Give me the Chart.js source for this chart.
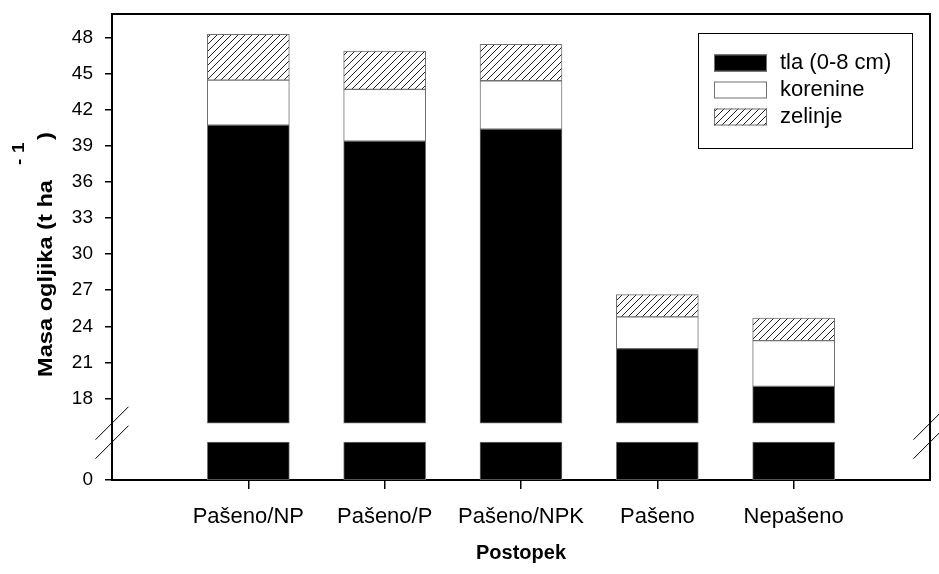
<!DOCTYPE html>
<html><head><meta charset="utf-8">
<script src="https://cdn.jsdelivr.net/npm/chart.js@4"></script>
<style>html,body{margin:0;padding:0;background:#fff}canvas{display:block}</style>
</head><body>
<canvas id="c" width="939" height="574"></canvas>
<script>
// ---- data ----
const categories = ['Pašeno/NP', 'Pašeno/P', 'Pašeno/NPK', 'Pašeno', 'Nepašeno'];
const tla      = [40.75, 39.42, 40.42, 22.14, 19.00];
const korenine = [3.75, 4.30, 4.02, 2.64, 3.81];
const zelinje  = [3.81, 3.20, 3.03, 1.86, 1.88];
const seriesNames = ['tla (0-8 cm)', 'korenine', 'zelinje'];
const yTickValues = [18, 21, 24, 27, 30, 33, 36, 39, 42, 45, 48];
const yZeroLabel = '0';
const xTitle = 'Postopek';
const yTitle = 'Masa ogljika (t ha';
const yTitleSup = ['-', '1'];
const yTitleEnd = ')';

// broken axis: display position of real 0 and of the break
const Y_MIN = 11.2, Y_MAX = 50, BREAK_LOW = 14.35, BREAK_HIGH = 15.93;

const FONT = "'Liberation Sans', Arial, Helvetica, sans-serif";
Chart.defaults.font.family = FONT;
Chart.defaults.color = '#000';

// hatch pattern
function makeHatch() {
  const s = 7;
  const pc = document.createElement('canvas');
  pc.width = s; pc.height = s;
  const g = pc.getContext('2d');
  g.fillStyle = '#fff'; g.fillRect(0, 0, s, s);
  g.strokeStyle = '#222'; g.lineWidth = 1;
  g.beginPath();
  g.moveTo(0, s); g.lineTo(s, 0);
  g.moveTo(-1, 1); g.lineTo(1, -1);
  g.moveTo(s - 1, s + 1); g.lineTo(s + 1, s - 1);
  g.stroke();
  return document.getElementById('c').getContext('2d').createPattern(pc, 'repeat');
}
const hatch = makeHatch();

const xs = categories.map((_, i) => i + 1);
const blackUpper = xs.map((x, i) => ({ x, y: [BREAK_HIGH, tla[i]] }));
const blackLower = xs.map((x) => ({ x, y: [Y_MIN, BREAK_LOW] }));
const whiteSeg  = xs.map((x, i) => ({ x, y: [tla[i], tla[i] + korenine[i]] }));
const hatchSeg  = xs.map((x, i) => ({ x, y: [tla[i] + korenine[i], tla[i] + korenine[i] + zelinje[i]] }));

const BORDER = '#707070';
const barCommon = { grouped: false, barThickness: 82, borderWidth: 1, borderColor: BORDER, borderSkipped: false };

const legendItems = [
  { label: seriesNames[0], fill: '#000' },
  { label: seriesNames[1], fill: '#fff' },
  { label: seriesNames[2], fill: hatch }
];

const decor = {
  id: 'decor',
  afterDraw(chart) {
    const ctx = chart.ctx;
    const a = chart.chartArea;
    const ys = chart.scales.y;
    ctx.save();
    // frame top & right
    ctx.strokeStyle = '#000'; ctx.lineWidth = 2;
    ctx.beginPath();
    ctx.moveTo(a.left - 1, a.top); ctx.lineTo(a.right, a.top); ctx.lineTo(a.right, a.bottom + 1);
    ctx.stroke();
    // break marks
    ctx.lineWidth = 1;
    const yb = [ys.getPixelForValue(BREAK_HIGH), ys.getPixelForValue(BREAK_LOW)];
    [a.left, a.right].forEach(x => {
      yb.forEach(y => {
        ctx.beginPath();
        ctx.moveTo(x - 16.5, y + 16.5);
        ctx.lineTo(x + 16.5, y - 16.5);
        ctx.stroke();
      });
    });
    // legend
    const L = { x: 698, y: 33, w: 214, h: 115 };
    ctx.fillStyle = '#fff'; ctx.fillRect(L.x, L.y, L.w, L.h);
    ctx.strokeStyle = '#000'; ctx.lineWidth = 1;
    ctx.strokeRect(L.x + 0.5, L.y + 0.5, L.w, L.h);
    const rows = [63, 90, 117];
    ctx.font = '22px ' + FONT; ctx.textBaseline = 'middle'; ctx.textAlign = 'left';
    legendItems.forEach((it, i) => {
      const cy = rows[i];
      ctx.fillStyle = it.fill;
      ctx.fillRect(714, cy - 8.5, 53, 17);
      ctx.strokeStyle = BORDER; ctx.strokeRect(714.5, cy - 8, 52, 16);
      ctx.fillStyle = '#000';
      ctx.fillText(it.label, 780, cy);
    });
    // y axis title (rotated, with superscript)
    ctx.translate(52, 377);
    ctx.rotate(-Math.PI / 2);
    ctx.textBaseline = 'alphabetic';
    ctx.font = 'bold 21px ' + FONT;
    const w = ctx.measureText(yTitle).width;
    const sx = 197 / w;
    ctx.scale(sx, 1);
    ctx.fillText(yTitle, 0, 0);
    ctx.font = 'bold 17px ' + FONT;
    ctx.fillText(yTitleSup[0], 212 / sx, -28);
    ctx.fillText(yTitleSup[1], 224 / sx, -28);
    ctx.font = 'bold 21px ' + FONT;
    ctx.fillText(yTitleEnd, 237 / sx, 0);
    ctx.restore();
  }
};

new Chart(document.getElementById('c'), {
  type: 'bar',
  data: {
    datasets: [
      Object.assign({ label: seriesNames[0], data: blackLower, backgroundColor: '#000' }, barCommon),
      Object.assign({ label: seriesNames[0], data: blackUpper, backgroundColor: '#000' }, barCommon),
      Object.assign({ label: seriesNames[1], data: whiteSeg, backgroundColor: '#fff' }, barCommon),
      Object.assign({ label: seriesNames[2], data: hatchSeg, backgroundColor: hatch }, barCommon)
    ]
  },
  options: {
    responsive: false,
    animation: false,
    events: [],
    layout: { padding: { left: 0, right: 9, top: 14, bottom: 0 } },
    plugins: { legend: { display: false }, tooltip: { enabled: false } },
    scales: {
      x: {
        type: 'linear', min: 0, max: 6, offset: false,
        afterBuildTicks: s => { s.ticks = xs.map(v => ({ value: v })); },
        ticks: { callback: v => categories[v - 1] ?? '', font: { size: 22 }, color: '#000', padding: 15, maxRotation: 0, autoSkip: false },
        grid: { offset: false, drawOnChartArea: false, drawTicks: true, tickLength: 9, color: '#000', tickColor: '#000', tickWidth: 1.5, lineWidth: 1.5 },
        border: { display: true, color: '#000', width: 2 },
        title: { display: true, text: xTitle, font: { size: 20, weight: 'bold' }, color: '#000', padding: { top: 0, bottom: 9 } },
        afterFit: s => { s.height = 94; s.paddingLeft = 0; s.paddingRight = 0; }
      },
      y: {
        type: 'linear', min: Y_MIN, max: Y_MAX,
        afterBuildTicks: s => { s.ticks = [Y_MIN, ...yTickValues].map(v => ({ value: v })); },
        ticks: { callback: v => (v === Y_MIN ? yZeroLabel : String(v)), font: { size: 19 }, color: '#000', padding: 12, autoSkip: false },
        grid: { offset: false, drawOnChartArea: false, drawTicks: true, tickLength: 7, color: '#000', lineWidth: 1.5 },
        border: { display: true, color: '#000', width: 2 },
        afterFit: s => { s.width = 112; s.paddingTop = 0; s.paddingBottom = 0; }
      }
    }
  },
  plugins: [decor]
});
</script>
</body></html>
